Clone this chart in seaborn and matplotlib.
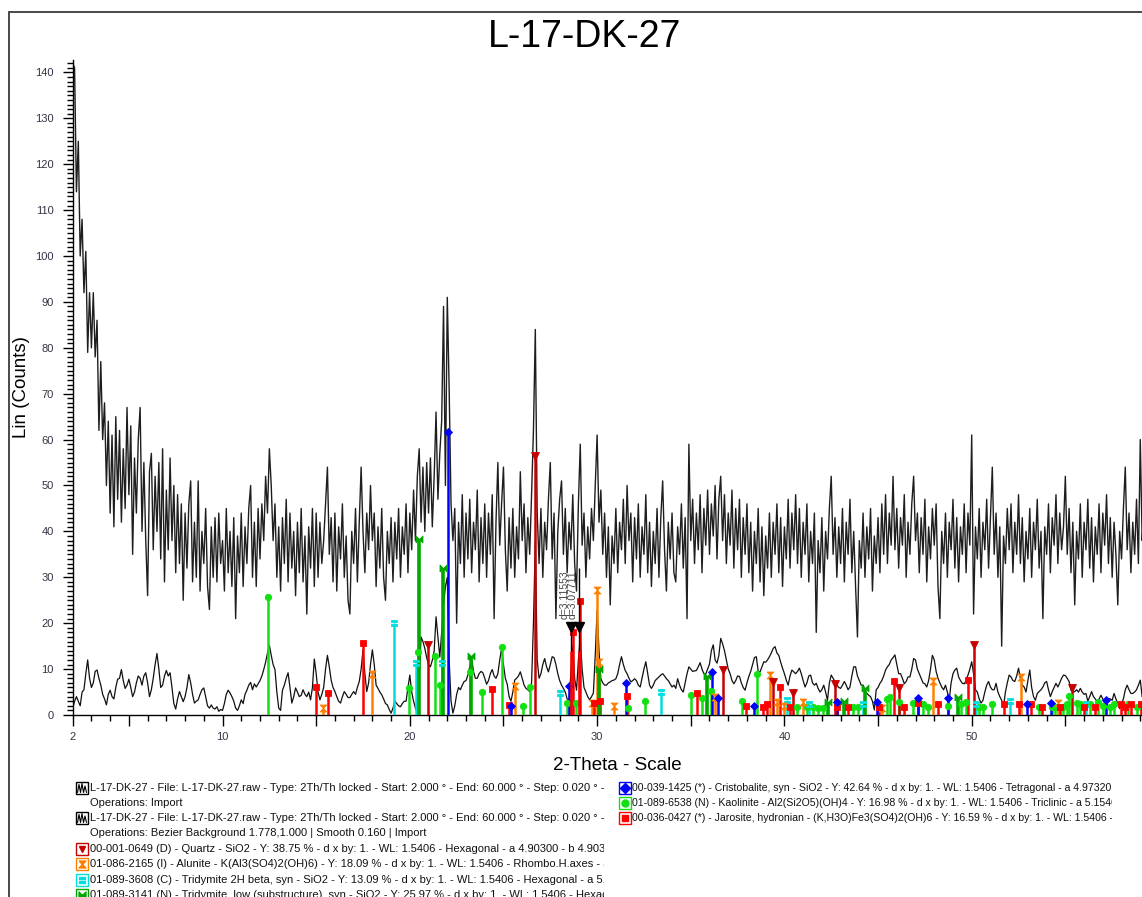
import numpy as np
import pandas as pd
import matplotlib
matplotlib.use("Agg")
import matplotlib.pyplot as plt
import seaborn as sns
from matplotlib.patches import Rectangle
from matplotlib.lines import Line2D
from matplotlib.path import Path
from matplotlib.transforms import Bbox, TransformedBbox

sns.set_style("ticks")
plt.rcParams['font.family'] = ['Liberation Sans', 'DejaVu Sans']

TITLE = "L-17-DK-27"
X_LABEL = "2-Theta - Scale"
Y_LABEL = "Lin (Counts)"

# ---------------- data ----------------
theta_start, theta_end, theta_step = 2.0, 60.0, 0.1
two_theta = np.round(np.arange(theta_start, theta_end + 1e-6, theta_step), 1)

raw_counts = [
    142, 141, 114, 125, 100, 108, 92, 101, 79, 92,
    80, 92, 78, 86, 62, 77, 60, 68, 50, 64,
    44, 61, 41, 65, 47, 62, 42, 58, 45, 67,
    48, 63, 35, 56, 44, 60, 67, 40, 55, 38,
    26, 53, 57, 36, 52, 40, 55, 34, 58, 29,
    49, 36, 56, 38, 50, 31, 48, 33, 46, 25,
    44, 32, 46, 51, 29, 42, 30, 51, 27, 40,
    33, 45, 28, 23, 41, 30, 43, 29, 44, 33,
    38, 27, 45, 31, 40, 28, 43, 21, 39, 31,
    44, 28, 41, 33, 45, 50, 30, 42, 28, 45,
    34, 46, 38, 52, 44, 58, 50, 38, 46, 30,
    41, 27, 43, 33, 47, 29, 44, 32, 40, 26,
    42, 31, 45, 29, 39, 22, 41, 32, 45, 28,
    44, 30, 42, 33, 38, 46, 54, 35, 43, 29,
    44, 27, 41, 34, 46, 30, 39, 25, 22, 40,
    33, 45, 29, 42, 54, 40, 31, 44, 36, 50,
    38, 44, 28, 41, 32, 45, 30, 25, 40, 33,
    43, 29, 42, 34, 45, 30, 41, 35, 46, 31,
    44, 36, 49, 38, 52, 58, 42, 54, 40, 55,
    44, 56, 41, 52, 66, 47, 57, 64, 89, 50,
    91, 71, 46, 38, 45, 20, 42, 33, 48, 30,
    44, 34, 47, 31, 42, 36, 49, 29, 43, 33,
    46, 30, 44, 35, 48, 21, 42, 55, 37, 46,
    54, 36, 27, 43, 32, 45, 30, 41, 34, 53,
    38, 46, 31, 43, 35, 48, 62, 84, 44, 33,
    45, 30, 42, 36, 47, 55, 34, 44, 21, 40,
    47, 51, 35, 45, 31, 42, 36, 48, 33, 27,
    46, 59, 37, 44, 30, 41, 34, 45, 38, 50,
    61, 42, 49, 35, 44, 30, 41, 24, 39, 33,
    45, 31, 42, 36, 47, 33, 50, 38, 44, 29,
    43, 34, 46, 30, 41, 35, 48, 31, 42, 28,
    40, 33, 45, 30, 43, 51, 36, 27, 42, 34,
    44, 31, 29, 41, 35, 46, 32, 43, 21, 59,
    38, 47, 33, 44, 36, 48, 31, 45, 37, 49,
    35, 46, 39, 50, 34, 47, 52, 38, 48, 33,
    44, 37, 49, 32, 45, 36, 47, 30, 43, 35,
    46, 31, 42, 27, 40, 33, 45, 29, 41, 26,
    39, 32, 44, 30, 42, 35, 46, 31, 43, 28,
    41, 34, 47, 32, 44, 36, 48, 33, 45, 30,
    42, 35, 46, 29, 40, 33, 44, 18, 38, 31,
    43, 27, 40, 34, 45, 52, 35, 43, 30, 41,
    33, 45, 29, 42, 35, 47, 31, 40, 28, 17,
    38, 32, 44, 30, 41, 34, 45, 27, 39, 33,
    43, 31, 46, 35, 48, 33, 44, 37, 52, 36,
    45, 32, 43, 37, 48, 30, 42, 35, 46, 52,
    38, 44, 31, 43, 35, 47, 29, 41, 34, 45,
    37, 46, 28, 21, 40, 33, 44, 30, 42, 36,
    47, 32, 43, 29, 41, 35, 46, 31, 44, 37,
    61, 22, 41, 34, 45, 30, 42, 36, 47, 32,
    43, 54, 35, 44, 30, 41, 15, 39, 33, 45,
    36, 46, 31, 42, 35, 48, 33, 43, 29, 40,
    34, 45, 30, 42, 36, 47, 32, 40, 21, 41,
    35, 46, 31, 43, 37, 48, 33, 44, 36, 41,
    52, 35, 45, 31, 42, 24, 40, 34, 46, 30,
    42, 36, 47, 32, 43, 29, 41, 35, 46, 31,
    44, 37, 48, 33, 43, 30, 42, 35, 24, 40,
    34, 45, 54, 36, 44, 31, 42, 35, 47, 33,
    60, 38, 45, 32, 43, 36, 47, 31, 42, 35,
    40,
]

smoothed_counts = [
    1.4, 3, 4, 3, 2, 5, 5.5, 9, 12, 8,
    6, 7, 9.5, 9.8, 8, 6.5, 4.5, 3.5, 2.2, 4.5,
    5.4, 4, 3.5, 6, 7.8, 8, 9.9, 7.5, 5.8, 6.5,
    7.8, 6, 4, 5, 7, 8.5, 8, 6.5, 8.5, 9.2,
    7, 4, 5.5, 8, 11, 13.4, 10, 6, 6.5, 8.5,
    9.7, 8.5, 9.2, 6, 2.5, 1.3, 3.5, 5.1, 4, 2.9,
    4, 6, 8.8, 7, 4.5, 2.6, 3, 3.3, 4.5, 5.5,
    5.9, 4, 2, 1.5, 2.2, 1.5, 1.3, 1.8, 0.8, 1.2,
    1, 2.5, 4.5, 5.4, 4.8, 4, 3, 1.5, 1, 2,
    3.3, 2.5, 4.5, 5.4, 6.5, 7.1, 5.5, 6.8, 6.1, 6.8,
    7.5, 8.5, 9.9, 11.5, 13.5, 15.2, 13, 11, 9.9, 5,
    1.5, 1, 5.4, 6.5, 8, 9.2, 6, 2.6, 4, 5.9,
    5, 4, 4.3, 5.5, 4.5, 4, 5, 3.3, 6, 12.2,
    9, 5, 3.3, 4.5, 6, 10, 13, 10.5, 7.6, 6,
    5.1, 4, 3, 2.6, 4, 5.1, 4.5, 3.8, 3.8, 4.5,
    5.1, 4.5, 6, 7.3, 10, 14.2, 9, 5.1, 7, 11,
    14.2, 11, 6.5, 5.8, 5, 4.4, 3.5, 2.5, 2.2, 1.2,
    0.4, 1.5, 3, 2.5, 2, 1.8, 2.5, 3, 3, 6,
    8.7, 5, 3, 1.5, 0.4, 8, 17, 16, 14.5, 12.5,
    11, 10.5, 11.9, 14, 21.4, 17, 12.6, 18, 24, 28,
    30, 12, 3, 0.4, 2, 4.5, 6, 5.5, 6.5, 7.3,
    7.5, 8.7, 10.5, 12.3, 9.5, 8, 8, 9, 9.5, 9.2,
    8, 6.7, 7.5, 9, 9.9, 8.5, 8, 9, 12, 14.5,
    11, 8, 6.7, 4, 3, 5, 7.6, 8, 8.5, 9.4,
    8, 6.5, 5.8, 5.5, 5.1, 7, 20, 38, 12, 8,
    9, 11, 12.3, 10.5, 9.4, 11, 12.7, 12.5, 11, 9,
    7.5, 6.5, 5.8, 5, 3.5, 3.3, 9, 15, 8, 5.4,
    12, 17, 10, 6, 5, 4, 3.3, 4, 4.8, 13,
    22.9, 14, 7.9, 7, 6.5, 6.5, 7, 7.2, 7.5, 7.6,
    7.9, 9, 11, 12.7, 11, 9.7, 9, 8, 7.2, 7.5,
    7.9, 7.5, 6.5, 6.1, 8, 10, 11.6, 9, 6.5, 5.8,
    6.5, 7.5, 7.9, 8.3, 8.7, 9, 8.5, 7.9, 7.5, 6.8,
    6.1, 6.5, 5.8, 7.9, 6.5, 5.5, 5, 7, 9, 10.5,
    10, 9.5, 9.6, 9.7, 10.5, 11.4, 10, 9, 8.9, 10,
    11.1, 14, 15.3, 12, 11.3, 13, 16.7, 15.5, 14, 12,
    10, 9, 7.5, 6.8, 7.5, 8.5, 8.4, 7, 6, 5.4,
    7, 8.4, 9.5, 11, 12.5, 12.7, 9.5, 9.4, 10.5, 11.6,
    11.5, 12, 12.7, 13.5, 14.5, 14.9, 13.5, 13, 11.5, 10.2,
    9, 7.6, 6.5, 8.5, 9.8, 9.4, 9, 9.5, 10.2, 9,
    7.5, 6.1, 7, 8.5, 8.7, 7, 6.5, 6.9, 5.8, 5,
    5.5, 6.5, 5, 3.2, 7, 8.7, 8, 7.3, 6.5, 6,
    5.8, 6.5, 7.3, 6.5, 5.5, 6.1, 8.5, 10.5, 10.5, 8.5,
    7.5, 6.5, 6.5, 5.5, 4.7, 4.3, 4, 3, 1.1, 5.5,
    6, 6.9, 7.5, 8.5, 9.8, 10.5, 11, 12, 12.5, 13.1,
    11, 9, 9, 8, 6.8, 7.3, 8.3, 8.3, 10, 12.3,
    12, 10, 9, 8, 7, 6.8, 6.1, 7.5, 10, 13,
    12, 9.5, 8, 7, 6.1, 5.5, 6.5, 5, 3.2, 7,
    9, 9.8, 10.2, 8.3, 7.5, 6.9, 6.8, 7.5, 8.7, 10,
    11.6, 9, 5.5, 5, 3.5, 2.6, 3.2, 5, 6.5, 7.3,
    6.1, 5.5, 5.5, 6.9, 5, 4, 3.2, 1.8, 5, 7,
    8.7, 8.3, 7.5, 7.3, 8.5, 10.2, 8, 6.5, 6.1, 5,
    7.5, 9.8, 6, 4, 3.2, 4.7, 5.1, 5.5, 6.1, 7,
    7.3, 5.5, 4, 5.1, 6, 6.9, 6.1, 7, 8, 8.7,
    8.6, 8, 7.3, 5.4, 5, 5.1, 5.5, 5, 5.8, 5,
    4.5, 4.7, 3, 4, 5.1, 4, 3.5, 2.9, 3.5, 4.3,
    3.5, 2.5, 1.8, 3.6, 3.5, 3.2, 4.7, 3.5, 2.5, 1.4,
    2.5, 3.5, 5.5, 6.5, 5.5, 4.7, 4.7, 5, 5.5, 6.5,
    7.6, 4, 4.5, 5, 4.5, 5, 4, 4.5, 5, 4.5,
    4,
]

# reference patterns (2-theta, intensity)
quartz_pos = [20.98, 26.67, 36.70, 39.40, 40.48, 42.70, 46.10, 50.14, 55.35]
quartz_int = [15.3, 56.4, 9.9, 7.1, 4.9, 6.7, 5.9, 15.2, 5.8]

alunite_pos = [15.39, 17.97, 25.62, 29.70, 30.00, 30.08, 30.88, 36.28, 39.24, 39.60,
               39.98, 41.00, 45.20, 47.95, 52.64, 54.60]
alunite_int = [1.5, 9.0, 6.3, 2.7, 27.2, 11.6, 2.0, 4.0, 8.7, 2.9,
               2.0, 2.9, 1.6, 7.4, 8.3, 2.7]

trid2h_pos = [19.15, 20.33, 21.72, 28.03, 33.40, 40.16, 41.32, 44.17, 50.23, 52.07, 56.12]
trid2h_int = [20.1, 11.3, 11.3, 4.9, 5.1, 3.2, 2.3, 2.3, 2.3, 3.0, 2.3]

tridlow_pos = [20.50, 21.77, 23.27, 30.10, 35.88, 42.34, 43.19, 44.31, 49.29]
tridlow_int = [38.3, 32.1, 12.9, 10.1, 8.5, 2.8, 3.0, 5.8, 4.0]

cristo_pos = [22.03, 25.40, 28.49, 31.55, 36.15, 36.45, 38.40, 42.80, 44.94, 47.11,
              48.72, 52.96, 54.21, 57.19]
cristo_int = [61.7, 2.0, 6.3, 6.9, 9.3, 3.8, 2.0, 2.9, 2.9, 3.8,
              3.6, 2.3, 2.7, 3.2]

kaol_pos = [12.44, 19.93, 20.41, 21.36, 21.61, 23.23, 23.85, 24.92, 26.06, 26.42,
            28.38, 28.86, 31.64, 32.55, 35.03, 35.62, 36.06, 37.75, 38.52, 40.66,
            41.20, 41.55, 41.77, 42.04, 43.64, 43.94, 45.50, 45.65, 46.12, 46.85,
            47.38, 47.65, 48.72, 49.43, 49.70, 50.40, 50.60, 51.07, 53.57, 54.30,
            54.45, 54.90, 55.10, 55.22, 55.60, 55.80, 56.30, 56.75, 57.00, 57.40,
            57.60, 58.35, 58.80]
kaol_int = [25.6, 5.8, 13.8, 12.9, 6.6, 9.4, 5.1, 14.9, 2.0, 6.0,
            2.6, 2.7, 1.5, 3.0, 4.3, 3.6, 5.3, 3.0, 9.0, 1.8,
            1.7, 1.8, 1.6, 1.6, 1.8, 1.8, 3.4, 4.0, 2.9, 2.7,
            2.3, 1.8, 2.0, 2.3, 2.9, 1.8, 1.8, 2.3, 1.8, 1.8,
            1.8, 1.8, 2.3, 4.2, 2.7, 2.3, 2.3, 2.9, 2.0, 1.8,
            2.3, 2.3, 1.8]

jaro_pos = [15.00, 15.65, 17.50, 24.40, 25.32, 28.72, 29.08, 29.83, 30.14, 31.62,
            35.31, 37.97, 38.83, 39.06, 39.77, 40.30, 42.80, 43.37, 45.06, 45.86,
            46.40, 47.11, 48.19, 49.79, 51.75, 52.55, 53.18, 53.75, 54.69, 56.00,
            56.56, 57.99, 58.17, 58.53, 59.02]
jaro_int = [6.2, 4.8, 15.6, 5.7, 2.2, 18.0, 24.8, 2.7, 3.0, 4.2,
            4.9, 2.0, 1.8, 2.5, 6.2, 1.7, 1.8, 1.8, 1.8, 7.5,
            1.8, 2.7, 2.5, 7.6, 2.5, 2.5, 2.3, 1.8, 1.8, 1.8,
            1.8, 2.5, 1.8, 2.5, 2.3]

dmark_pos = [28.63, 29.05]
dmark_labels = ["d=3.11553", "d=3.07711"]
dmark_height = 19.2

x_tick_labels = ["2", "10", "20", "30", "40", "50"]
y_tick_labels = [str(v) for v in range(0, 150, 10)]

legend_left = [
    "L-17-DK-27 - File: L-17-DK-27.raw - Type: 2Th/Th locked - Start: 2.000 \u00b0 - End: 60.000 \u00b0 - Step: 0.020 \u00b0 - Step time: 1. s",
    "Operations: Import",
    "L-17-DK-27 - File: L-17-DK-27.raw - Type: 2Th/Th locked - Start: 2.000 \u00b0 - End: 60.000 \u00b0 - Step: 0.020 \u00b0 - Step time: 1. s",
    "Operations: Bezier Background 1.778,1.000 | Smooth 0.160 | Import",
    "00-001-0649 (D) - Quartz - SiO2 - Y: 38.75 % - d x by: 1. - WL: 1.5406 - Hexagonal - a 4.90300 - b 4.90300 - c 5.39300",
    "01-086-2165 (I) - Alunite - K(Al3(SO4)2(OH)6) - Y: 18.09 % - d x by: 1. - WL: 1.5406 - Rhombo.H.axes - a 6.98000",
    "01-089-3608 (C) - Tridymite 2H beta, syn - SiO2 - Y: 13.09 % - d x by: 1. - WL: 1.5406 - Hexagonal - a 5.05200",
    "01-089-3141 (N) - Tridymite, low (substructure), syn - SiO2 - Y: 25.97 % - d x by: 1. - WL: 1.5406 - Hexagonal",
]
legend_right = [
    "00-039-1425 (*) - Cristobalite, syn - SiO2 - Y: 42.64 % - d x by: 1. - WL: 1.5406 - Tetragonal - a 4.97320 - b 4.97320",
    "01-089-6538 (N) - Kaolinite - Al2(Si2O5)(OH)4 - Y: 16.98 % - d x by: 1. - WL: 1.5406 - Triclinic - a 5.15400 - b 8.94",
    "00-036-0427 (*) - Jarosite, hydronian - (K,H3O)Fe3(SO4)2(OH)6 - Y: 16.59 % - d x by: 1. - WL: 1.5406 - Rhombo.H.axes",
]

# ---------------- styles ----------------
W, H = 1142, 897
C_QTZ = "#c80000"
C_ALU = "#ff8000"
C_T2H = "#00dede"
C_TLO = "#00a800"
C_CRI = "#0000ff"
C_KAO = "#11e011"
C_JAR = "#ff0000"

hourglass = [(-1, 1), (1, 1), (-1, -1), (1, -1), (-1, 1)]
bowtie = [(-1, -1), (-1, 1), (1, -1), (1, 1), (-1, -1)]
eq_marker = Path(
    [(-1, 0.25), (1, 0.25), (1, 0.95), (-1, 0.95), (-1, 0.25),
     (-1, -0.95), (1, -0.95), (1, -0.25), (-1, -0.25), (-1, -0.95)],
    [Path.MOVETO, Path.LINETO, Path.LINETO, Path.LINETO, Path.CLOSEPOLY,
     Path.MOVETO, Path.LINETO, Path.LINETO, Path.LINETO, Path.CLOSEPOLY])

phases = [
    (kaol_pos, kaol_int, C_KAO, "o", 4.6, 1.8),
    (trid2h_pos, trid2h_int, C_T2H, eq_marker, 5.0, 1.8),
    (alunite_pos, alunite_int, C_ALU, hourglass, 5.0, 1.8),
    (jaro_pos, jaro_int, C_JAR, "s", 5.0, 1.8),
    (tridlow_pos, tridlow_int, C_TLO, bowtie, 5.0, 2.6),
    (cristo_pos, cristo_int, C_CRI, "D", 4.0, 1.8),
    (quartz_pos, quartz_int, C_QTZ, "v", 5.2, 1.8),
]

fig = plt.figure(figsize=(W / 100, H / 100), dpi=100)
ax = fig.add_axes([72.7 / W, 1 - 715 / H, (1159 - 72.7) / W, (715 - 60) / H])

df_raw = pd.DataFrame({"two_theta": two_theta, "counts": raw_counts})
df_sm = pd.DataFrame({"two_theta": two_theta, "counts": smoothed_counts})

sns.lineplot(data=df_raw, x="two_theta", y="counts", ax=ax, color="#1e1e1e",
             lw=1.0, estimator=None, sort=False, zorder=2)
sns.lineplot(data=df_sm, x="two_theta", y="counts", ax=ax, color="#111111",
             lw=0.9, estimator=None, sort=False, zorder=3)

for pos, inten, col, mk, ms, lw in phases:
    ax.vlines(pos, 0, inten, colors=col, lw=lw, zorder=4)
    ax.plot(pos, inten, ls="none", marker=mk, ms=ms, color=col, mec=col,
            mew=0.6, zorder=5)

# d-value markers
ax.vlines(dmark_pos, 0, [dmark_height, 32], colors="black", lw=1.0, zorder=6)
ax.plot(dmark_pos, [dmark_height] * 2, ls="none", marker="v", ms=6.5,
        color="black", zorder=7)
ax.vlines(dmark_pos, 0, [14, 14], colors=[C_JAR, C_JAR], lw=1.8, zorder=6)
for xp, lab in zip([28.27, 28.70], dmark_labels):
    ax.text(xp, 21.0, lab, rotation=90, ha="center", va="bottom",
            fontsize=7.5, color="#444444", zorder=8)

ax.set_xlim(2, 60)
ax.set_ylim(0, 142.7)
ax.set_xlabel("")
ax.set_ylabel("")

major_x = [2, 5, 10, 15, 20, 25, 30, 35, 40, 45, 50, 55, 60]
ax.set_xticks(major_x)
ax.set_xticklabels([("%d" % v if ("%d" % v) in x_tick_labels else "") for v in major_x])
ax.set_xticks(np.arange(2, 61, 1), minor=True)
ax.set_yticks(range(0, 150, 10))
ax.set_yticklabels(y_tick_labels)
ax.set_yticks(np.arange(0, 143, 1), minor=True)

ax.tick_params(axis="x", which="major", length=8, width=1, pad=4,
               labelsize=8, labelcolor="#333344", color="black")
ax.tick_params(axis="x", which="minor", length=4.5, width=1, color="black")
ax.tick_params(axis="y", which="major", length=7.5, width=1, pad=6,
               labelsize=8, labelcolor="#333344", color="black")
ax.tick_params(axis="y", which="minor", length=4.5, width=1, color="black")

for s in ["top", "right"]:
    ax.spines[s].set_visible(False)
for s in ["left", "bottom"]:
    ax.spines[s].set_color("black")
    ax.spines[s].set_linewidth(1.0)


def fx(px):
    return px / W


def fy(py):
    return 1 - py / H


# outer frame
fig.add_artist(Rectangle((fx(9), fy(1000)), fx(1400), (1000 - 12) / H,
                         transform=fig.transFigure, fill=False, ec="#3a3a3a",
                         lw=1.3, zorder=0))

# titles
fig.text(fx(585), fy(37), TITLE, ha="center", va="center", fontsize=27,
         color="black")
fig.text(fx(617), fy(766), X_LABEL, ha="center", va="center", fontsize=13.5,
         color="black")
fig.text(fx(22), fy(387), Y_LABEL, ha="center", va="center", fontsize=13.5,
         rotation=90, color="black")

# legend
left_clip = TransformedBbox(Bbox([[0, 0], [fx(604), 1]]), fig.transFigure)
right_clip = TransformedBbox(Bbox([[0, 0], [fx(1112), 1]]), fig.transFigure)

row_y = [788, 803, 818, 833, 849, 864, 880, 895]
left_icons = ["raw", None, "raw", None,
              (C_QTZ, "v"), (C_ALU, hourglass), (C_T2H, eq_marker), (C_TLO, bowtie)]
right_icons = [(C_CRI, "D"), (C_KAO, "o"), (C_JAR, "s")]


def draw_icon(x0, yc, spec):
    size = 12
    if spec == "raw":
        fig.add_artist(Rectangle((fx(x0), fy(yc + size / 2)), size / W, size / H,
                                 transform=fig.transFigure, fc="white", ec="black",
                                 lw=1.0))
        zx = [1.5, 3, 4.5, 6, 7.5, 9, 10.5]
        zy = [4.5, -3.5, 4.5, -4.5, 4.5, -2, 4.5]
        fig.add_artist(Line2D([fx(x0 + v) for v in zx], [fy(yc + v) for v in zy],
                              transform=fig.transFigure, color="black", lw=0.8))
    else:
        col, mk = spec
        fig.add_artist(Rectangle((fx(x0), fy(yc + size / 2)), size / W, size / H,
                                 transform=fig.transFigure, fc="white", ec=col,
                                 lw=1.0))
        fig.add_artist(Line2D([fx(x0 + size / 2)], [fy(yc)], marker=mk, ms=5,
                              color=col, mec=col, ls="none",
                              transform=fig.transFigure))


for i, (txt, spec) in enumerate(zip(legend_left, left_icons)):
    yc = row_y[i]
    if spec is not None:
        draw_icon(76, yc, spec)
    t = fig.text(fx(90), fy(yc), txt, ha="left", va="center", fontsize=8.05,
                 color="#111111")
    t.set_clip_box(left_clip)
    t.set_clip_on(True)

for i, (txt, spec) in enumerate(zip(legend_right, right_icons)):
    yc = row_y[i]
    draw_icon(619, yc, spec)
    t = fig.text(fx(632), fy(yc), txt, ha="left", va="center", fontsize=7.6,
                 color="#111111")
    t.set_clip_box(right_clip)
    t.set_clip_on(True)

fig.savefig("out.png", dpi=100)
